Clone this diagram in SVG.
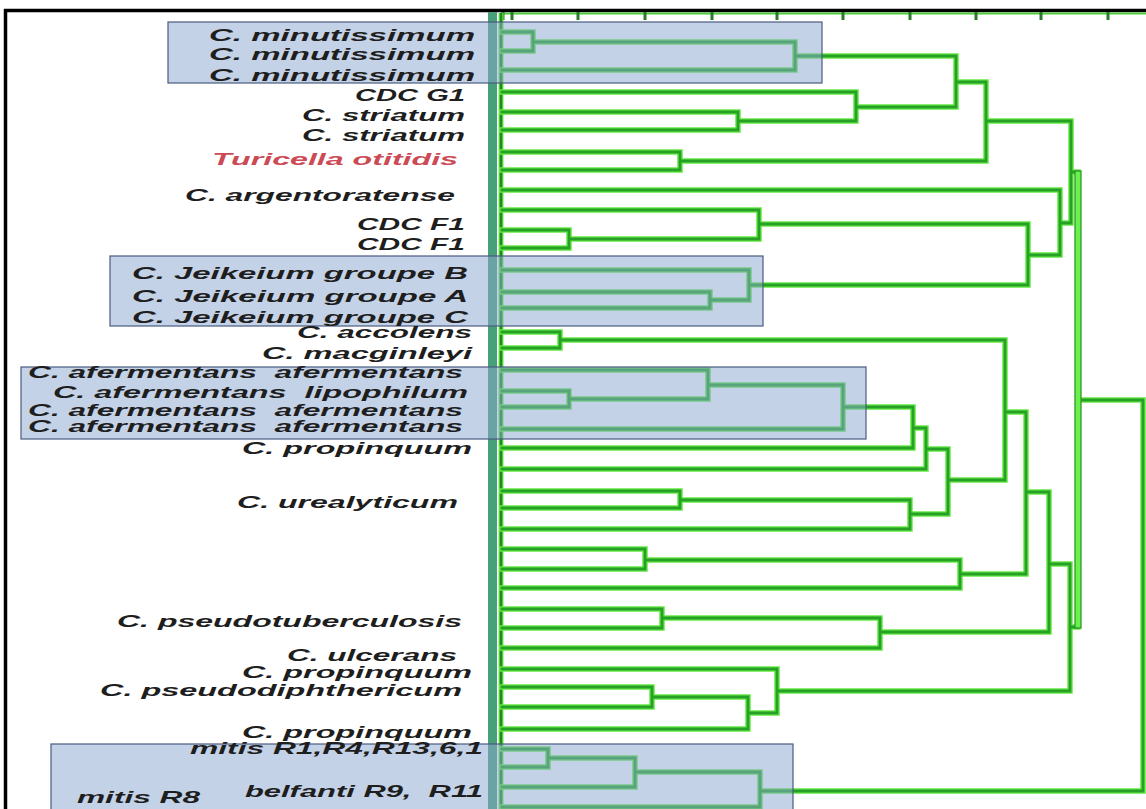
<svg xmlns="http://www.w3.org/2000/svg" xmlns:xlink="http://www.w3.org/1999/xlink" width="1146" height="809" viewBox="0 0 1146 809">
<style>
.lbl{font-family:"Liberation Sans",Arial,sans-serif;font-size:16.5px;font-weight:bold;font-style:italic;fill:#1e1e1e}
.red{fill:#cc4a55}
.glow{fill:none;stroke:#66ec44;stroke-width:5.5;stroke-linecap:square}
.core{fill:none;stroke:#26a026;stroke-width:2.8;stroke-linecap:square}
.box{fill:#8aa5d0;fill-opacity:0.5;stroke:#4a5a80;stroke-width:1.2}
.tick{stroke:#2a7a2a;stroke-width:3}
</style>
<defs>
<path id="tree" d="M502 32H533V51H502 M533 42H795V70H502 M795 56H956 M502 92H856V121H738 M502 112H738V130H502 M856 107H956V56 M956 82H986 M502 152H680V170H502 M680 161H986V82 M986 121H1071 M502 190H1060V255H1028 M1028 224V285H749 M502 210H759V239H569 M759 224H1028 M502 230H569V248H502 M502 270H749V300H710 M502 292H710V308H502 M1060 223H1071 M1071 121V223 M1071 172H1078 M502 332H560V348H502 M560 340H1005V480H948 M502 370H708V399H569 M502 391H569V407H502 M708 385H843V429H502 M843 407H913V448H502 M913 428H926V469H502 M926 449H948V514H910 M502 491H680V508H502 M680 500H910V529H502 M1005 412H1026V574H960 M502 549H645V569H502 M645 560H960V588H502 M1026 492H1049V632H880 M502 609H662V628H502 M662 618H880V648H502 M1049 564H1070V691H777 M502 669H777V713H748 M502 687H652V707H502 M652 697H748V729H502 M1070 627H1078 M1078 400H1143V791H760 M502 749H548V767H502 M548 758H635V787H502 M635 772H760V807H502"/>
</defs>
<rect x="0" y="0" width="1146" height="809" fill="#ffffff"/>
<g id="frame">
<line x1="4" y1="10.5" x2="1146" y2="10.5" stroke="#000" stroke-width="3.5"/>
<line x1="5.5" y1="9" x2="5.5" y2="809" stroke="#000" stroke-width="3.5"/>
<line x1="500" y1="13.5" x2="1146" y2="13.5" stroke="#4ccc3a" stroke-width="2"/>
<g class="tick">
<line x1="503" y1="12" x2="503" y2="20"/><line x1="512" y1="12" x2="512" y2="20"/><line x1="578" y1="12" x2="578" y2="20"/><line x1="645" y1="12" x2="645" y2="20"/><line x1="712" y1="12" x2="712" y2="20"/><line x1="777" y1="12" x2="777" y2="20"/><line x1="843" y1="12" x2="843" y2="20"/><line x1="910" y1="12" x2="910" y2="20"/><line x1="976" y1="12" x2="976" y2="20"/><line x1="1041" y1="12" x2="1041" y2="20"/><line x1="1108" y1="12" x2="1108" y2="20"/>
</g>
<rect x="488" y="12" width="9" height="797" fill="#48a07a"/>
<line x1="501" y1="13" x2="501" y2="809" stroke="#66ec44" stroke-width="5"/>
<line x1="501" y1="13" x2="501" y2="809" stroke="#1f8a1f" stroke-width="2.6"/>
</g>
<g id="connectors">
<use xlink:href="#tree" class="glow"/>
<use xlink:href="#tree" class="core"/>
<rect x="1075" y="171" width="6" height="457" fill="#6cf04c" stroke="#2a9a2a" stroke-width="1.3"/>
</g>
<g id="cluster-boxes">
<rect id="box-minutissimum" class="box" x="168" y="22" width="654" height="61"/>
<rect id="box-jeikeium" class="box" x="110" y="256" width="653" height="70"/>
<rect id="box-afermentans" class="box" x="21" y="367" width="845" height="72"/>
<rect id="box-mitis" class="box" x="51" y="744" width="742" height="80"/>
</g>
<g id="n1"><text class="lbl" x="209" y="41" textLength="266" lengthAdjust="spacingAndGlyphs">C. minutissimum</text></g>
<g id="n2"><text class="lbl" x="209" y="60" textLength="266" lengthAdjust="spacingAndGlyphs">C. minutissimum</text></g>
<g id="n3"><text class="lbl" x="209" y="81" textLength="266" lengthAdjust="spacingAndGlyphs">C. minutissimum</text></g>
<g id="n4"><text class="lbl" x="355" y="101" textLength="110" lengthAdjust="spacingAndGlyphs">CDC G1</text></g>
<g id="n5"><text class="lbl" x="302" y="121" textLength="163" lengthAdjust="spacingAndGlyphs">C. striatum</text></g>
<g id="n6"><text class="lbl" x="302" y="141" textLength="163" lengthAdjust="spacingAndGlyphs">C. striatum</text></g>
<g id="n7"><text class="lbl red" x="212" y="165" textLength="246" lengthAdjust="spacingAndGlyphs">Turicella otitidis</text></g>
<g id="n8"><text class="lbl" x="185" y="201" textLength="270" lengthAdjust="spacingAndGlyphs">C. argentoratense</text></g>
<g id="n9"><text class="lbl" x="357" y="230" textLength="108" lengthAdjust="spacingAndGlyphs">CDC F1</text></g>
<g id="n10"><text class="lbl" x="357" y="250" textLength="108" lengthAdjust="spacingAndGlyphs">CDC F1</text></g>
<g id="n11"><text class="lbl" x="132" y="279" textLength="336" lengthAdjust="spacingAndGlyphs">C. Jeikeium groupe B</text></g>
<g id="n12"><text class="lbl" x="132" y="302" textLength="336" lengthAdjust="spacingAndGlyphs">C. Jeikeium groupe A</text></g>
<g id="n13"><text class="lbl" x="132" y="323" textLength="336" lengthAdjust="spacingAndGlyphs">C. Jeikeium groupe C</text></g>
<g id="n14"><text class="lbl" x="297" y="338" textLength="175" lengthAdjust="spacingAndGlyphs">C. accolens</text></g>
<g id="n15"><text class="lbl" x="262" y="359" textLength="210" lengthAdjust="spacingAndGlyphs">C. macginleyi</text></g>
<g id="n16"><text class="lbl" x="28" y="378" textLength="435" lengthAdjust="spacingAndGlyphs" xml:space="preserve">C. afermentans  afermentans</text></g>
<g id="n17"><text class="lbl" x="53" y="398" textLength="415" lengthAdjust="spacingAndGlyphs" xml:space="preserve">C. afermentans  lipophilum</text></g>
<g id="n18"><text class="lbl" x="28" y="416" textLength="435" lengthAdjust="spacingAndGlyphs" xml:space="preserve">C. afermentans  afermentans</text></g>
<g id="n19"><text class="lbl" x="28" y="432" textLength="435" lengthAdjust="spacingAndGlyphs" xml:space="preserve">C. afermentans  afermentans</text></g>
<g id="n20"><text class="lbl" x="242" y="454" textLength="230" lengthAdjust="spacingAndGlyphs">C. propinquum</text></g>
<g id="n21"><text class="lbl" x="237" y="508" textLength="221" lengthAdjust="spacingAndGlyphs">C. urealyticum</text></g>
<g id="n22"><text class="lbl" x="117" y="627" textLength="345" lengthAdjust="spacingAndGlyphs">C. pseudotuberculosis</text></g>
<g id="n23"><text class="lbl" x="287" y="661" textLength="170" lengthAdjust="spacingAndGlyphs">C. ulcerans</text></g>
<g id="n24"><text class="lbl" x="242" y="678" textLength="230" lengthAdjust="spacingAndGlyphs">C. propinquum</text></g>
<g id="n25"><text class="lbl" x="100" y="696" textLength="362" lengthAdjust="spacingAndGlyphs">C. pseudodiphthericum</text></g>
<g id="n26"><text class="lbl" x="242" y="738" textLength="230" lengthAdjust="spacingAndGlyphs">C. propinquum</text></g>
<g id="n27"><text class="lbl" x="190" y="754" textLength="293" lengthAdjust="spacingAndGlyphs">mitis R1,R4,R13,6,1</text></g>
<g id="n28"><text class="lbl" x="77" y="803" textLength="123" lengthAdjust="spacingAndGlyphs">mitis R8</text></g>
<g id="n29"><text class="lbl" x="245" y="797" textLength="238" lengthAdjust="spacingAndGlyphs" xml:space="preserve">belfanti R9,  R11</text></g>
</svg>
